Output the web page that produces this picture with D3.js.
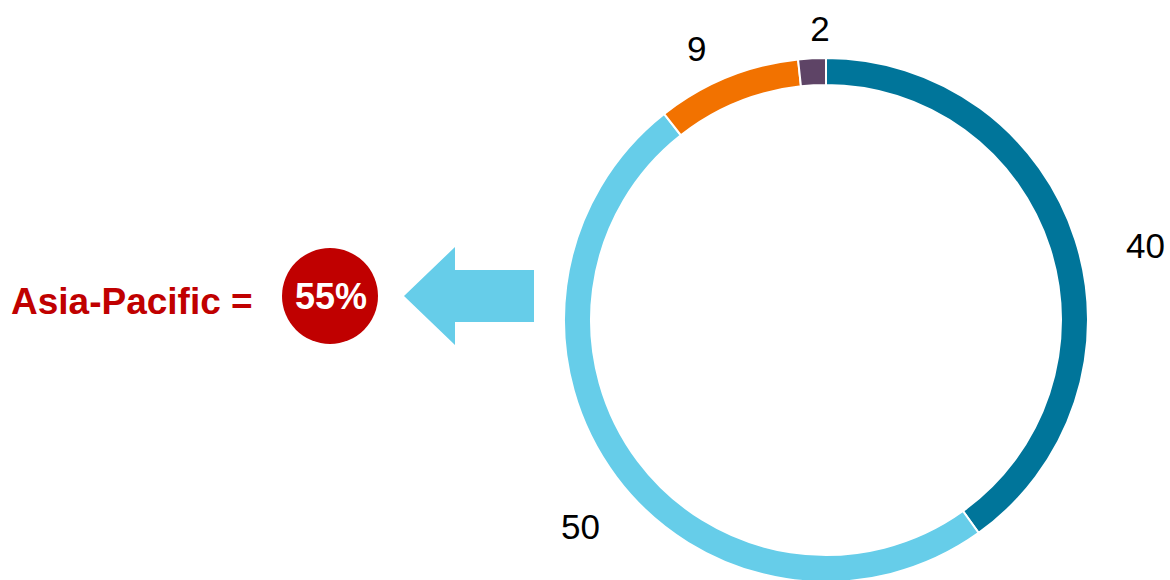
<!DOCTYPE html>
<html>
<head>
<meta charset="utf-8">
<script src="https://cdn.jsdelivr.net/npm/d3@7"></script>
<style>
  body { margin: 0; background: #fff; }
  svg { display: block; font-family: "Liberation Sans", Arial, sans-serif; }
</style>
</head>
<body>
<div id="chart"></div>
<script>
// chart data (segment sizes read from the ring, labels as printed)
var segments = ["Seg A", "Seg B", "Seg C", "Seg D"];
var values = [40.1, 49.3, 8.9, 1.7];
var valueLabels = ["40", "50", "9", "2"];
var colours = ["#00759A", "#66CDE9", "#F27200", "#5E4466"];
var calloutLabel = "Asia-Pacific =";
var calloutValue = "55%";

var width = 1170, height = 580;
var cx = 826, cy = 320,
    outerR = 262, innerR = 235;

// label placement: radius and small angle nudge (degrees) per segment
var labelLayout = [[328, 4.7], [321, -3.2], [301, -3.3], [292, 1.9]];

var svg = d3.select("#chart")
    .append("svg")
    .attr("width", width)
    .attr("height", height);

var pie = d3.pie()
    .sort(null)
    .value(function(d) { return d; });

var arc = d3.arc()
    .innerRadius(innerR)
    .outerRadius(outerR);

var arcs = pie(values);

var ring = svg.append("g")
    .attr("transform", "translate(" + cx + "," + cy + ")");

// draw ring segments
ring.selectAll("path")
    .data(arcs)
    .enter()
    .append("path")
    .attr("d", arc)
    .attr("fill", function(d, i) { return colours[i]; })
    .attr("stroke", "#fff")
    .attr("stroke-width", 2);

function labelAngle(d, i) {
    return (d.startAngle + d.endAngle) / 2 + labelLayout[i][1] * Math.PI / 180;
}

// value labels outside the ring
ring.selectAll("text")
    .data(arcs)
    .enter()
    .append("text")
    .attr("x", function(d, i) { return labelLayout[i][0] * Math.sin(labelAngle(d, i)); })
    .attr("y", function(d, i) { return -labelLayout[i][0] * Math.cos(labelAngle(d, i)); })
    .attr("text-anchor", "middle")
    .attr("dominant-baseline", "central")
    .style("font-size", "35px")
    .style("fill", "#000")
    .text(function(d, i) { return valueLabels[i]; });

// arrow pointing left
var arrow = d3.path();
arrow.moveTo(404, 296);
arrow.lineTo(455, 247);
arrow.lineTo(455, 270);
arrow.lineTo(534, 270);
arrow.lineTo(534, 322);
arrow.lineTo(455, 322);
arrow.lineTo(455, 345);
arrow.closePath();
svg.append("path")
    .attr("d", arrow.toString())
    .attr("fill", "#66CDE9");

// red circle with percentage
svg.append("circle")
    .attr("cx", 330)
    .attr("cy", 296)
    .attr("r", 48)
    .attr("fill", "#C00000");

svg.append("text")
    .attr("x", 331)
    .attr("y", 309)
    .attr("text-anchor", "middle")
    .style("font-size", "36px")
    .style("font-weight", "bold")
    .style("fill", "#fff")
    .text(calloutValue);

svg.append("text")
    .attr("x", 11)
    .attr("y", 314)
    .style("font-size", "37px")
    .style("font-weight", "bold")
    .style("fill", "#C00000")
    .text(calloutLabel);
</script>
</body>
</html>
